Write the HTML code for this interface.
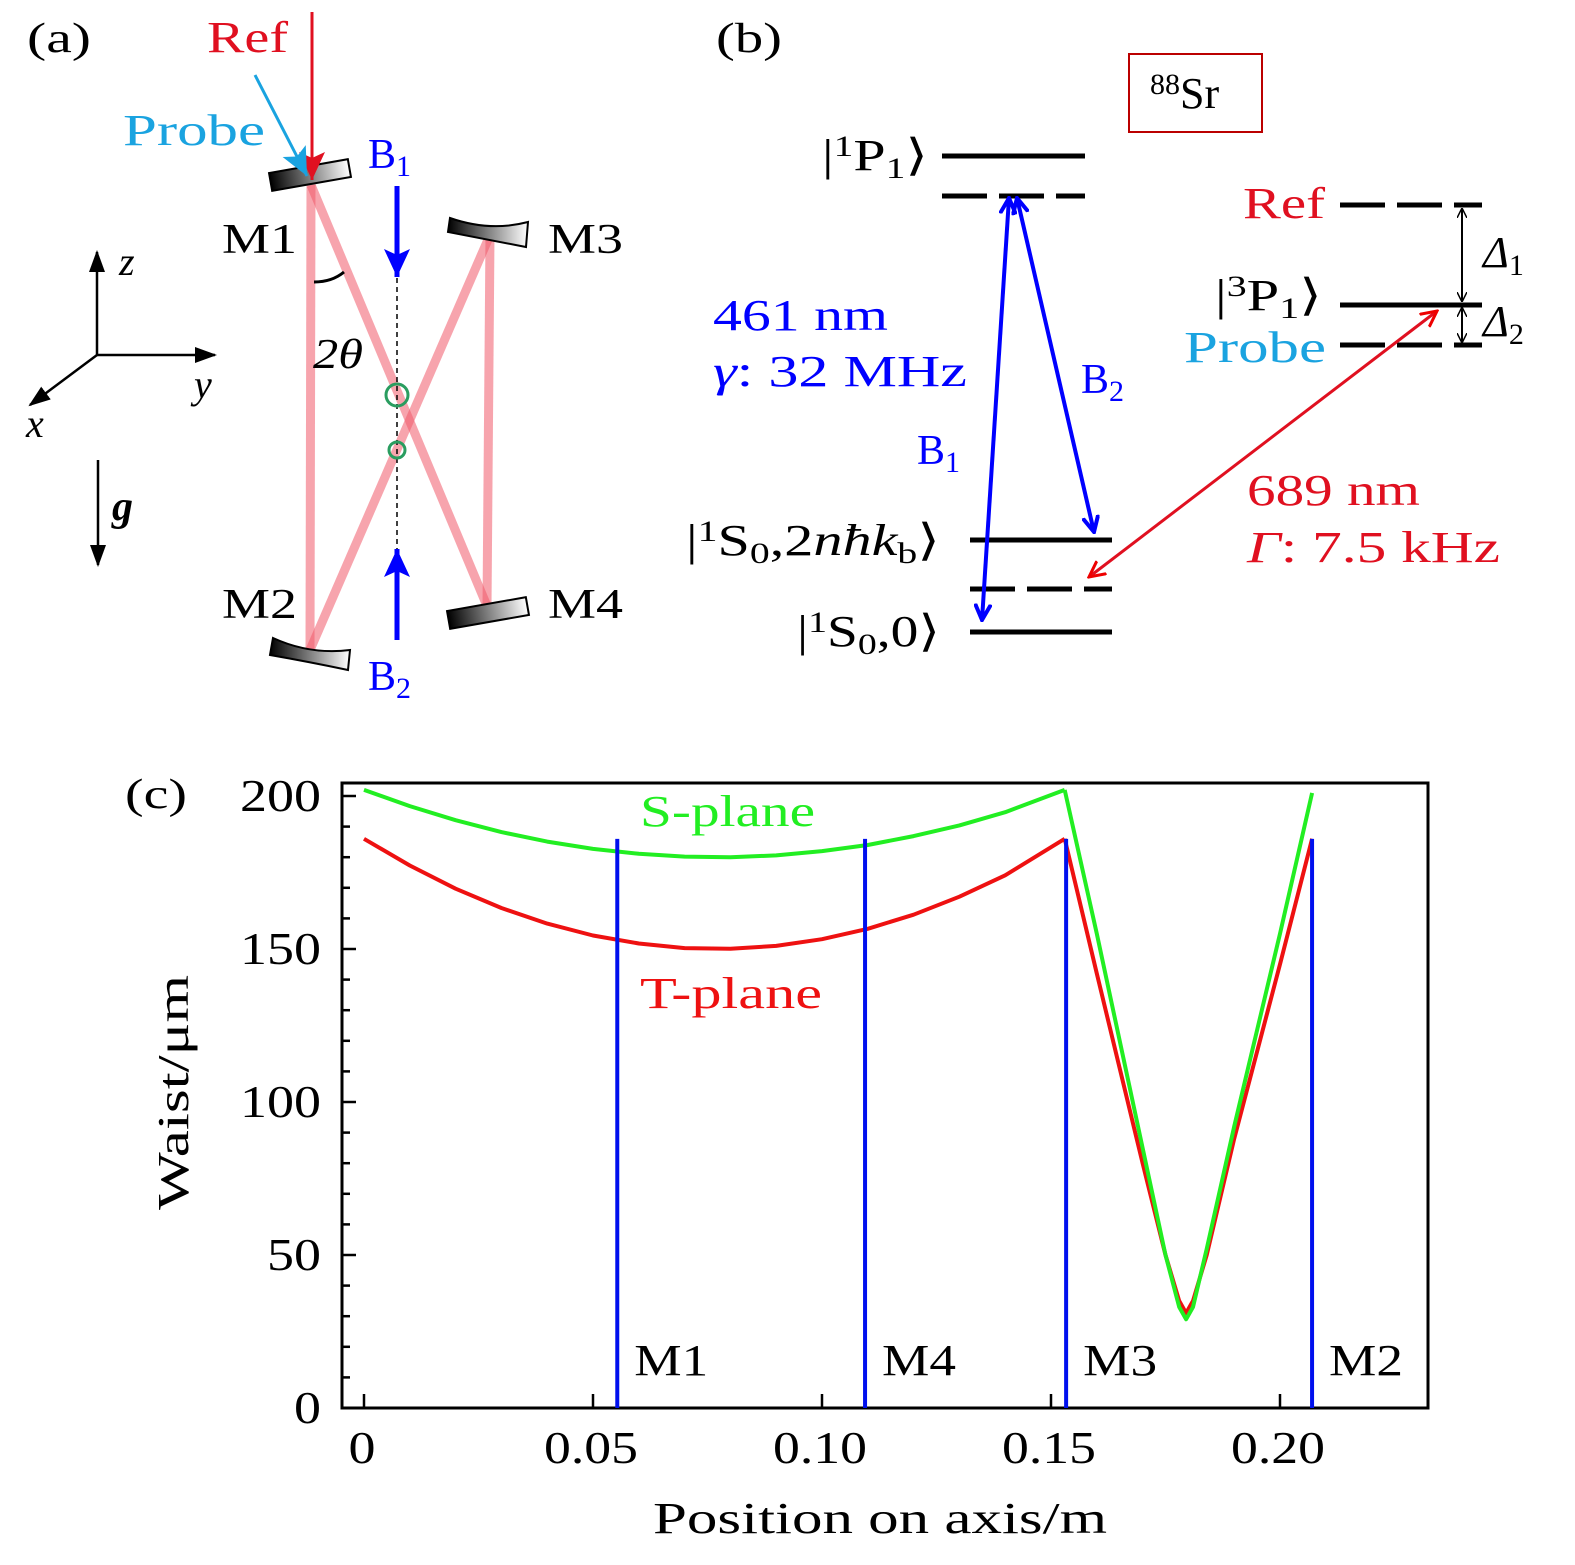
<!DOCTYPE html>
<html><head><meta charset="utf-8"><style>
body{margin:0;background:#fff}
svg{display:block}
text{font-family:"Liberation Serif",serif}
</style></head><body>
<svg width="1575" height="1565" viewBox="0 0 1575 1565" xmlns="http://www.w3.org/2000/svg">
<defs>
<linearGradient id="mg" x1="0" x2="1" y1="0" y2="0"><stop offset="0" stop-color="#000"/><stop offset="1" stop-color="#fff"/></linearGradient>
<marker id="ahK" markerWidth="10" markerHeight="10" refX="9" refY="5" orient="auto-start-reverse" markerUnits="userSpaceOnUse"><path d="M0,0 L10,5 L0,10" fill="none" stroke="#000" stroke-width="1.5"/></marker>
<marker id="ahKf" markerWidth="22" markerHeight="16" refX="20" refY="8" orient="auto" markerUnits="userSpaceOnUse"><path d="M0,0 L22,8 L0,16 Z" fill="#000"/></marker>
<marker id="ahB" markerWidth="18" markerHeight="18" refX="16" refY="9" orient="auto-start-reverse" markerUnits="userSpaceOnUse"><path d="M0,1 L16,9 L0,17" fill="none" stroke="#00f" stroke-width="4"/></marker>
<marker id="ahR" markerWidth="18" markerHeight="18" refX="16" refY="9" orient="auto-start-reverse" markerUnits="userSpaceOnUse"><path d="M0,1 L16,9 L0,17" fill="none" stroke="#e00" stroke-width="3"/></marker>
<marker id="ahBf" markerWidth="30" markerHeight="26" refX="28" refY="13" orient="auto" markerUnits="userSpaceOnUse"><path d="M0,0 L28,13 L0,26 L6,13 Z" fill="#00f"/></marker>
<marker id="ahRf" markerWidth="30" markerHeight="26" refX="28" refY="13" orient="auto" markerUnits="userSpaceOnUse"><path d="M0,0 L28,13 L0,26 L6,13 Z" fill="#e01020"/></marker>
<marker id="ahCf" markerWidth="30" markerHeight="26" refX="28" refY="13" orient="auto" markerUnits="userSpaceOnUse"><path d="M0,0 L28,13 L0,26 L6,13 Z" fill="#1aa3e0"/></marker>
</defs>

<!-- Panel (a) -->
<g>
<text x="27" y="52" font-size="42" textLength="64" lengthAdjust="spacingAndGlyphs">(a)</text>
<g stroke="rgba(240,90,105,0.55)" stroke-width="9">
<line x1="311" y1="185" x2="310" y2="650"/>
<line x1="311" y1="185" x2="487" y2="606"/>
<line x1="310" y1="650" x2="490" y2="235"/>
<line x1="490" y1="235" x2="487" y2="606"/>
</g>
<rect x="270" y="166" width="80" height="18" fill="url(#mg)" stroke="#000" stroke-width="2" transform="rotate(-10 310 175)"/>
<path d="M450,218 Q490,232 528,222 L526,247 Q490,240 448,232 Z" fill="url(#mg)" stroke="#000" stroke-width="2"/>
<rect x="448" y="604" width="80" height="18" fill="url(#mg)" stroke="#000" stroke-width="2" transform="rotate(-10 488 613)"/>
<path d="M273,638 Q310,655 350,650 L348,670 Q310,662 270,655 Z" fill="url(#mg)" stroke="#000" stroke-width="2"/>
<text x="207" y="52" font-size="44" textLength="81" lengthAdjust="spacingAndGlyphs" fill="#e01020">Ref</text>
<line x1="312" y1="12" x2="312" y2="180" stroke="#e01020" stroke-width="3" marker-end="url(#ahRf)"/>
<text x="123" y="145" font-size="44" textLength="142" lengthAdjust="spacingAndGlyphs" fill="#1aa3e0">Probe</text>
<line x1="255" y1="75" x2="307" y2="176" stroke="#1aa3e0" stroke-width="3" marker-end="url(#ahCf)"/>
<text x="222" y="253" font-size="42" textLength="75" lengthAdjust="spacingAndGlyphs">M1</text>
<text x="548" y="253" font-size="42" textLength="75" lengthAdjust="spacingAndGlyphs">M3</text>
<text x="222" y="618" font-size="42" textLength="75" lengthAdjust="spacingAndGlyphs">M2</text>
<text x="548" y="618" font-size="42" textLength="75" lengthAdjust="spacingAndGlyphs">M4</text>
<text x="368" y="168" font-size="42" fill="#00f">B<tspan font-size="30" dy="8">1</tspan></text>
<line x1="397" y1="186" x2="397" y2="277" stroke="#00f" stroke-width="5" marker-end="url(#ahBf)"/>
<line x1="397" y1="278" x2="397" y2="550" stroke="#000" stroke-width="1.5" stroke-dasharray="5,4"/>
<line x1="397" y1="640" x2="397" y2="549" stroke="#00f" stroke-width="5" marker-end="url(#ahBf)"/>
<text x="368" y="690" font-size="42" fill="#00f">B<tspan font-size="30" dy="8">2</tspan></text>
<circle cx="397" cy="395" r="11" fill="none" stroke="#2a9d60" stroke-width="3"/>
<circle cx="397" cy="450" r="8" fill="none" stroke="#2a9d60" stroke-width="3"/>
<path d="M314,282 Q332,282 344,272" fill="none" stroke="#000" stroke-width="3"/>
<text x="313" y="368" font-size="42" font-style="italic" textLength="50" lengthAdjust="spacingAndGlyphs">2θ</text>
<g stroke="#000" stroke-width="2.5">
<line x1="97" y1="355" x2="97" y2="252" marker-end="url(#ahKf)"/>
<line x1="97" y1="355" x2="215" y2="355" marker-end="url(#ahKf)"/>
<line x1="97" y1="355" x2="30" y2="405" marker-end="url(#ahKf)"/>
<line x1="98" y1="460" x2="98" y2="565" marker-end="url(#ahKf)"/>
</g>
<text x="119" y="275" font-size="40" font-style="italic">z</text>
<text x="194" y="398" font-size="40" font-style="italic">y</text>
<text x="26" y="437" font-size="40" font-style="italic">x</text>
<text x="112" y="520" font-size="42" font-style="italic" font-weight="bold">g</text>
</g>

<!-- Panel (b) -->
<g>
<text x="716" y="52" font-size="42" textLength="66" lengthAdjust="spacingAndGlyphs">(b)</text>
<rect x="1129" y="54" width="133" height="78" fill="none" stroke="#b00" stroke-width="2"/>
<text x="1150" y="108" font-size="44"><tspan font-size="30" dy="-14">88</tspan><tspan dy="14">Sr</tspan></text>
<g stroke="#000" stroke-width="5">
<line x1="942" y1="156" x2="1085" y2="156"/>
<line x1="942" y1="196" x2="1085" y2="196" stroke-dasharray="45,12,45,12,30"/>
<line x1="970" y1="540" x2="1112" y2="540"/>
<line x1="970" y1="589" x2="1112" y2="589" stroke-dasharray="45,12,45,12,30"/>
<line x1="970" y1="632" x2="1112" y2="632"/>
<line x1="1340" y1="205" x2="1482" y2="205" stroke-dasharray="45,12,45,12,30"/>
<line x1="1340" y1="305" x2="1482" y2="305"/>
<line x1="1340" y1="345" x2="1482" y2="345" stroke-dasharray="45,12,45,12,30"/>
</g>
<text x="822" y="170" font-size="44" textLength="106" lengthAdjust="spacingAndGlyphs">|<tspan font-size="30" dy="-14">1</tspan><tspan dy="14">P</tspan><tspan font-size="30" dy="8">1</tspan><tspan dy="-8">⟩</tspan></text>
<text x="686" y="555" font-size="44" textLength="254" lengthAdjust="spacingAndGlyphs">|<tspan font-size="30" dy="-14">1</tspan><tspan dy="14">S</tspan><tspan font-size="30" dy="8">0</tspan><tspan dy="-8">,2</tspan><tspan font-style="italic">nħk</tspan><tspan font-size="30" dy="8">b</tspan><tspan dy="-8">⟩</tspan></text>
<text x="797" y="646" font-size="44" textLength="143" lengthAdjust="spacingAndGlyphs">|<tspan font-size="30" dy="-14">1</tspan><tspan dy="14">S</tspan><tspan font-size="30" dy="8">0</tspan><tspan dy="-8">,0⟩</tspan></text>
<text x="1243" y="218" font-size="44" textLength="82" lengthAdjust="spacingAndGlyphs" fill="#e01020">Ref</text>
<text x="1215" y="310" font-size="44" textLength="107" lengthAdjust="spacingAndGlyphs">|<tspan font-size="30" dy="-14">3</tspan><tspan dy="14">P</tspan><tspan font-size="30" dy="8">1</tspan><tspan dy="-8">⟩</tspan></text>
<text x="1184" y="362" font-size="44" textLength="142" lengthAdjust="spacingAndGlyphs" fill="#1aa3e0">Probe</text>
<line x1="1462" y1="209" x2="1462" y2="301" stroke="#000" stroke-width="2" marker-start="url(#ahK)" marker-end="url(#ahK)"/>
<line x1="1462" y1="308" x2="1462" y2="342" stroke="#000" stroke-width="2" marker-start="url(#ahK)" marker-end="url(#ahK)"/>
<text x="1483" y="267" font-size="44" font-style="italic">Δ<tspan font-size="30" dy="8" font-style="normal">1</tspan></text>
<text x="1483" y="336" font-size="44" font-style="italic">Δ<tspan font-size="30" dy="8" font-style="normal">2</tspan></text>
<line x1="1009" y1="198" x2="982" y2="620" stroke="#00f" stroke-width="4" marker-start="url(#ahB)" marker-end="url(#ahB)"/>
<line x1="1017" y1="198" x2="1094" y2="532" stroke="#00f" stroke-width="4" marker-start="url(#ahB)" marker-end="url(#ahB)"/>
<line x1="1437" y1="311" x2="1089" y2="577" stroke="#e01020" stroke-width="3" marker-start="url(#ahR)" marker-end="url(#ahR)"/>
<text x="713" y="330" font-size="44" textLength="175" lengthAdjust="spacingAndGlyphs" fill="#00f">461 nm</text>
<text x="713" y="386" font-size="44" textLength="254" lengthAdjust="spacingAndGlyphs" fill="#00f"><tspan font-style="italic">γ</tspan>: 32 MHz</text>
<text x="1081" y="393" font-size="42" fill="#00f">B<tspan font-size="30" dy="8">2</tspan></text>
<text x="917" y="464" font-size="42" fill="#00f">B<tspan font-size="30" dy="8">1</tspan></text>
<text x="1247" y="505" font-size="44" textLength="173" lengthAdjust="spacingAndGlyphs" fill="#e01020">689 nm</text>
<text x="1247" y="562" font-size="44" textLength="253" lengthAdjust="spacingAndGlyphs" fill="#e01020"><tspan font-style="italic">Γ</tspan>: 7.5 kHz</text>
</g>

<!-- Panel (c) -->
<g id="chart">
<text x="125" y="808" font-size="42" textLength="62" lengthAdjust="spacingAndGlyphs">(c)</text>
<text x="653" y="1533" font-size="44" textLength="454" lengthAdjust="spacingAndGlyphs">Position on axis/m</text>
<text transform="translate(188 1210) rotate(-90)" font-size="44" textLength="235" lengthAdjust="spacingAndGlyphs">Waist/μm</text>
</g>
</svg>
<script>
const xTicks = [0, 0.05, 0.10, 0.15, 0.20];
const xTickLabels = ["0", "0.05", "0.10", "0.15", "0.20"];
const yTicks = [0, 50, 100, 150, 200];
const yTickLabels = ["0", "50", "100", "150", "200"];
const seg1X = [0, 0.01, 0.02, 0.03, 0.04, 0.05, 0.06, 0.07, 0.08, 0.09, 0.10, 0.11, 0.12, 0.13, 0.14, 0.153];
const tPlaneSeg1 = [186, 177.3, 169.7, 163.4, 158.3, 154.4, 151.8, 150.3, 150.1, 151.0, 153.2, 156.6, 161.2, 167.1, 174.1, 186];
const sPlaneSeg1 = [202, 196.7, 192.1, 188.2, 185.1, 182.7, 181.1, 180.2, 180.0, 180.6, 182.0, 184.0, 186.9, 190.4, 194.7, 202];
const tSeg2X = [0.153, 0.16, 0.17, 0.175, 0.178, 0.1795, 0.181, 0.184, 0.19, 0.20, 0.207];
const tPlaneSeg2 = [186, 142, 80, 50, 35, 31, 35, 50, 88, 145, 186];
const sSeg2X = [0.153, 0.16, 0.17, 0.175, 0.178, 0.1795, 0.181, 0.184, 0.19, 0.20, 0.207];
const sPlaneSeg2 = [202, 155, 85, 50, 33, 29, 33, 52, 92, 155, 201];
const mirrorPos = [0.0553, 0.1094, 0.1533, 0.207];
const mirrorNames = ["M1", "M4", "M3", "M2"];
const mirrorTop = 186;

const NS = "http://www.w3.org/2000/svg";
const g = document.getElementById("chart");
const X0 = 364, XS = 4580, Y0 = 1408, YS = 3.06;
const xS = v => X0 + v * XS;
const yS = v => Y0 - v * YS;
const L = 342, R = 1428, T = 783, B = 1408;
function mk(tag, attrs, parent) {
  const e = document.createElementNS(NS, tag);
  for (const k in attrs) e.setAttribute(k, attrs[k]);
  (parent || g).appendChild(e);
  return e;
}
function lblW(s) { let w = 0; for (const c of s) w += (c === "." ? 13 : 27); return w; }
let frame = mk("rect", {x: L, y: T, width: R - L, height: B - T, fill: "none", stroke: "#000", "stroke-width": 3});


for (let v = 0; v <= 200; v += 10) {
  const major = v % 50 === 0;
  let t = mk("line", {x1: L, x2: L + (major ? 14 : 8), y1: yS(v), y2: yS(v), stroke: "#000", "stroke-width": 2.5});
  
  
}
yTicks.forEach((v, i) => {
  const w = lblW(yTickLabels[i]);
  let t = mk("text", {x: 321 - w, y: yS(v) + 15, "font-size": 46, textLength: w, lengthAdjust: "spacingAndGlyphs"});
  t.textContent = yTickLabels[i];
  
  
});
xTicks.forEach((v, i) => {
  let t = mk("line", {x1: xS(v), x2: xS(v), y1: B, y2: B - 14, stroke: "#000", "stroke-width": 2.5});
  
  
  const w = lblW(xTickLabels[i]);
  let l = mk("text", {x: xS(v) - w / 2 - 2, y: B + 55, "font-size": 46, textLength: w, lengthAdjust: "spacingAndGlyphs"});
  l.textContent = xTickLabels[i];
  
  
});
function poly(xs, ys, color, name) {
  const pts = xs.map((x, i) => xS(x).toFixed(1) + "," + yS(ys[i]).toFixed(1)).join(" ");
  let p = mk("polyline", {points: pts, fill: "none", stroke: color, "stroke-width": 4, "stroke-linejoin": "round"});
  
  
}
poly(seg1X, sPlaneSeg1, "#22ee22", "s-plane-curve");
poly(seg1X, tPlaneSeg1, "#ee1111", "t-plane-curve");
poly(tSeg2X, tPlaneSeg2, "#ee1111", "t-plane-focus-curve");
poly(sSeg2X, sPlaneSeg2, "#22ee22", "s-plane-focus-curve");
mirrorPos.forEach((v, i) => {
  let m = mk("line", {x1: xS(v), x2: xS(v), y1: yS(mirrorTop), y2: B, stroke: "#0010ee", "stroke-width": 4});
  
  
  let t = mk("text", {x: xS(v) + 17, y: 1375, "font-size": 44, textLength: 74, lengthAdjust: "spacingAndGlyphs"});
  t.textContent = mirrorNames[i];
  
  
});
let sl = mk("text", {x: 640, y: 826, "font-size": 44, fill: "#22ee22", textLength: 175, lengthAdjust: "spacingAndGlyphs"});
sl.textContent = "S-plane";


let tl = mk("text", {x: 640, y: 1008, "font-size": 44, fill: "#ee1111", textLength: 182, lengthAdjust: "spacingAndGlyphs"});
tl.textContent = "T-plane";


</script>
</body></html>
